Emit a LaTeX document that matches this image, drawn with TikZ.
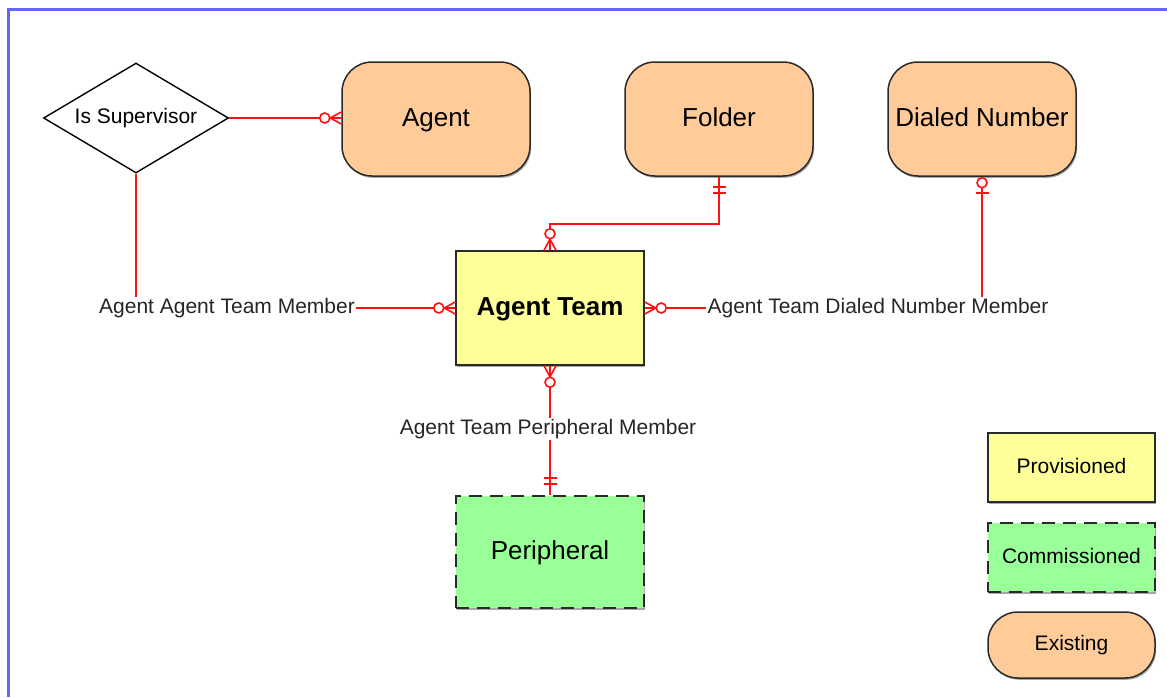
\documentclass[tikz,border=0pt]{standalone}
\usepackage{fontspec}
\setmainfont{Liberation Sans}
\usetikzlibrary{shapes.geometric,decorations.markings,shadows,calc}
\definecolor{peach}{HTML}{FFCC99}
\definecolor{provyellow}{HTML}{FFFF99}
\definecolor{commgreen}{HTML}{99FF99}
\definecolor{frameblue}{HTML}{6666FF}
\definecolor{relred}{HTML}{FF1010}
\definecolor{edgegray}{HTML}{2A2A2A}
\tikzset{
  boxshadow/.style={drop shadow={shadow xshift=1.2pt,shadow yshift=-1.8pt,fill=black,opacity=0.35}},
  titlefont/.style={font=\fontsize{26}{30}\selectfont,text height=19pt,text depth=5pt},
  smallfont/.style={font=\fontsize{21}{24}\selectfont,text height=15pt,text depth=4pt},
  existing/.style={draw=edgegray,line width=1.5pt,fill=peach,rounded corners=30pt,boxshadow,
    minimum width=188pt,minimum height=114pt,inner sep=0pt,titlefont},
  provisioned/.style={draw=edgegray,line width=1.5pt,fill=provyellow,boxshadow,
    minimum width=188pt,minimum height=114pt,inner sep=0pt,titlefont,font=\fontsize{26}{30}\selectfont\bfseries},
  commissioned/.style={draw=edgegray,line width=1.8pt,dash pattern=on 13pt off 8pt,fill=commgreen,boxshadow,
    minimum width=188pt,minimum height=112pt,inner sep=0pt,titlefont},
  legendtext/.style={smallfont,minimum width=167pt,minimum height=69pt},
  decision/.style={diamond,aspect=1.68,draw=black,line width=1.4pt,fill=white,minimum width=185pt,minimum height=110pt,
    inner sep=0pt,smallfont},
  lbl/.style={smallfont,inner sep=1pt,text=black!85},
  rel/.style={draw=relred,line width=1.7pt},
  mk/.style={draw=relred,line width=1.6pt},
  zmany end/.style={postaction={decorate,decoration={markings,mark=at position 1 with {
      \draw[mk] (-11pt,0pt) -- (0pt,6pt) (-11pt,0pt) -- (0pt,-6pt);
      \draw[mk,fill=white] (-16.5pt,0pt) circle (5pt);}}}},
  zmany start/.style={postaction={decorate,decoration={markings,mark=at position 0 with {
      \draw[mk] (11pt,0pt) -- (0pt,6pt) (11pt,0pt) -- (0pt,-6pt);
      \draw[mk,fill=white] (16.5pt,0pt) circle (5pt);}}}},
  one start/.style={postaction={decorate,decoration={markings,mark=at position 0 with {
      \draw[mk] (10pt,-6.5pt) -- (10pt,6.5pt) (16pt,-6.5pt) -- (16pt,6.5pt);}}}},
  one end/.style={postaction={decorate,decoration={markings,mark=at position 1 with {
      \draw[mk] (-11pt,-6.5pt) -- (-11pt,6.5pt) (-17pt,-6.5pt) -- (-17pt,6.5pt);}}}},
  zone start/.style={postaction={decorate,decoration={markings,mark=at position 0 with {
      \draw[mk,fill=white] (6pt,0pt) circle (5pt);
      \draw[mk] (16pt,-6.5pt) -- (16pt,6.5pt);}}}},
}
\begin{document}
\begin{tikzpicture}[x=1pt,y=-1pt]
\useasboundingbox (0,0) rectangle (1167,697);
\fill[white] (0,0) rectangle (1167,697);
\draw[frameblue,line width=3pt] (8,697) -- (8,9) -- (1167,9);

% entities
\node[decision] (sup) at (136,118) {Is Supervisor};
\node[existing] (agent) at (436,119) {Agent};
\node[existing] (folder) at (719,119) {Folder};
\node[existing] (dn) at (982,119) {Dialed Number};
\node[provisioned] (team) at (550,308) {Agent Team};
\node[commissioned] (per) at (550,552) {Peripheral};

% relationship labels
\node[lbl] (l1) at (227,308) {Agent Agent Team Member};
\node[lbl] (l2) at (878,308) {Agent Team Dialed Number Member};
\node[lbl] (l3) at (548,429) {Agent Team Peripheral Member};

% connectors
\draw[rel,zmany end] (sup.east) -- (sup.east -| agent.west);
\draw[rel] (sup.south) -- (sup.south |- l1.north);
\draw[rel,zmany end] (l1.east) -- (team.west);
\draw[rel,one start,zmany end] (folder.south) -- ++(0,47) -| (team.north);
\draw[rel,zone start] (dn.south) -- (dn.south |- l2.north);
\draw[rel,zmany end] (l2.west) -- (team.east);
\draw[rel,zmany start] (team.south) -- (team.south |- l3.north);
\draw[rel,one end] (per.north |- l3.south) -- (per.north);

% legend
\node[provisioned,legendtext,font=\fontsize{21}{24}\selectfont] (lp) at (1071.5,467.5) {Provisioned};
\node[commissioned,legendtext] (lc) at (1071.5,557.5) {Commissioned};
\node[existing,legendtext,minimum height=66pt] (le) at (1071.5,645) {Existing};
\end{tikzpicture}
\end{document}
